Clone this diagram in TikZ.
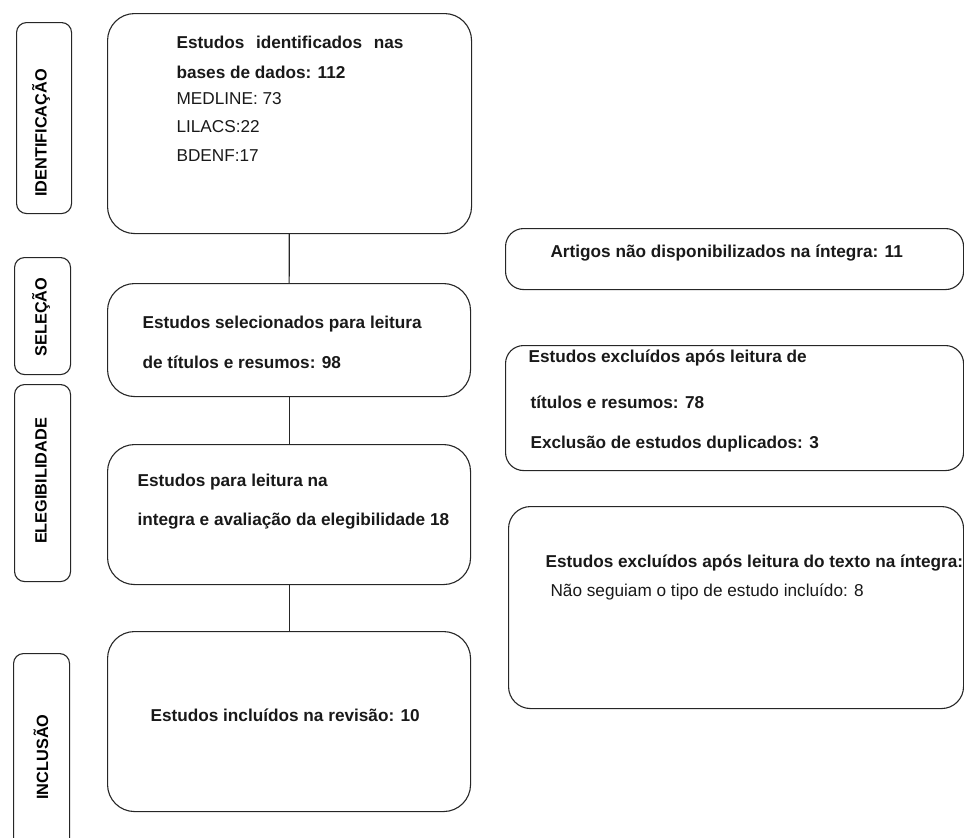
\documentclass[tikz,border=0pt]{standalone}
\usepackage{fontspec}
\setmainfont{Liberation Sans}
\usepackage{tikz}
\usetikzlibrary{positioning}

\newcommand{\fsz}{\fontsize{17.2}{20}\selectfont}

\begin{document}
\begin{tikzpicture}[
                x = 1pt, y = -1pt, % pixel units, y pointing down
                line width = 1.1pt, % line style
                font = \fsz
            ]

            \tikzstyle{mainbox}=[
            draw = black!85,
            rounded corners = 27pt,
            inner sep = 0pt,
            anchor = north west
            ]
            \tikzstyle{sidebox}=[draw = black!85, rounded corners = 18pt, inner sep = 0pt, anchor = north west]
            \tikzstyle{phasebox}=[draw = black!85, rounded corners = 10pt, inner sep = 0pt, anchor = north west]
            \tikzstyle{phase}=[rotate = 90, inner sep = 0pt, font = \fontsize{16.3}{18}\selectfont\bfseries]
            \tikzstyle{txt}=[anchor = base west, inner sep = 0pt, text = black!90]
            \tikzstyle{btxt}=[txt, font = \fsz\bfseries]

            \useasboundingbox (0,0) rectangle (964,838);

            % phase labels
            \node[phasebox, minimum width = 55pt, minimum height = 191pt] (pident) at (16,22) {};
            \node[phasebox, minimum width = 56pt, minimum height = 117pt] (pselec) at (14,257) {};
            \node[phasebox, minimum width = 56pt, minimum height = 197pt] (peleg) at (14,384) {};
            \node[phasebox, minimum width = 56pt, minimum height = 210pt] (pincl) at (13,653) {};

            \node[phase] (lident) at (41,133) {IDENTIFICAÇÃO};
            \node[phase] (lselec) at (41,317) {SELEÇÃO};
            \node[phase] (leleg) at (41,481) {ELEGIBILIDADE};
            \node[phase] (lincl) at (41,757) {INCLUSÃO};

            % main flow
            \node[mainbox, minimum width = 364pt, minimum height = 220pt] (ident) at (107,13) {};
            \node[mainbox, minimum width = 363pt, minimum height = 113pt] (selec) at (107,283) {};
            \node[mainbox, minimum width = 363pt, minimum height = 140pt] (eleg) at (107,444) {};
            \node[mainbox, minimum width = 363pt, minimum height = 180pt] (incl) at (107,631) {};

            \node[btxt] (t1a) at (176,48) {\makebox[227pt][s]{Estudos identificados nas}};
            \node[btxt] (t1b) at (176,78) {bases de dados: 112};
            \node[txt] (t1c) at (176,104) {MEDLINE: 73};
            \node[txt] (t1d) at (176,132) {LILACS:22};
            \node[txt] (t1e) at (176,161) {BDENF:17};

            \node[btxt] (t2a) at (142,328) {Estudos selecionados para leitura};
            \node[btxt] (t2b) at (142,368) {de títulos e resumos: 98};

            \node[btxt] (t3a) at (137,486) {Estudos para leitura na};
            \node[btxt] (t3b) at (137,525) {integra e avaliação da elegibilidade 18};

            \node[btxt] (t4a) at (150,721) {Estudos incluídos na revisão: 10};

            % exclusions
            \node[sidebox, minimum width = 458pt, minimum height = 61pt] (semdisp) at (505,228) {};
            \node[sidebox, minimum width = 458pt, minimum height = 125pt] (excl1) at (505,345) {};
            \node[sidebox, minimum width = 455pt, minimum height = 202pt, rounded corners = 22pt] (excl2) at (508,506) {};

            \node[btxt] (r1a) at (550,257) {Artigos não disponibilizados na íntegra: 11};

            \node[btxt] (r2a) at (528,362) {Estudos excluídos após leitura de};
            \node[btxt] (r2b) at (530,408) {títulos e resumos: 78};
            \node[btxt] (r2c) at (530,448) {Exclusão de estudos duplicados: 3};

            \node[btxt] (r3a) at (545,567) {Estudos excluídos após leitura do texto na íntegra:};
            \node[txt] (r3b) at (550,596) {Não seguiam o tipo de estudo incluído: 8};

            \draw[black!85] (ident) -- (selec);
            \draw[black!85] (selec) -- (eleg);
            \draw[black!85] (eleg) -- (incl);
        \end{tikzpicture}
\end{document}
